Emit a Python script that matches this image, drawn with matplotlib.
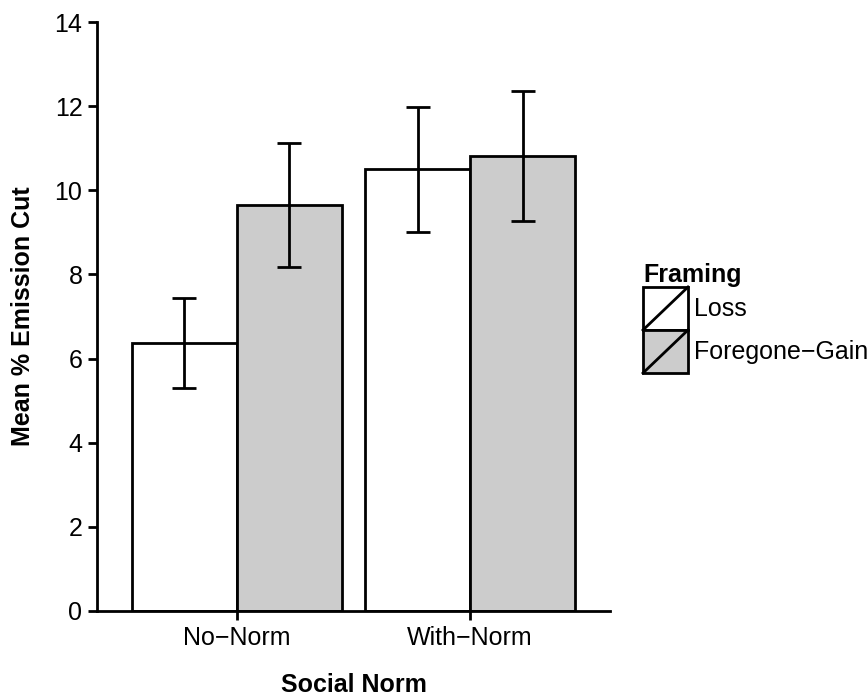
#!/usr/bin/env python

import matplotlib
matplotlib.use("Agg")
import matplotlib.pyplot as plt
import numpy as np
from matplotlib.legend_handler import HandlerBase
from matplotlib.lines import Line2D
from matplotlib.patches import Rectangle

# data
norms = ["No\u2212Norm", "With\u2212Norm"]
framings = ["Loss", "Foregone\u2212Gain"]
loss_means = [6.37, 10.50]
loss_err = [1.06, 1.48]
gain_means = [9.65, 10.81]
gain_err = [1.48, 1.55]
yticks = [0, 2, 4, 6, 8, 10, 12, 14]

colors = ["white", "#cccccc"]
LW = 2.0

plt.rcParams["font.family"] = ["Liberation Sans", "DejaVu Sans"]
plt.rcParams["font.size"] = 18


class SlashBoxHandler(HandlerBase):
    """old ggplot2 style key: filled box with a diagonal stroke"""

    def create_artists(self, legend, orig_handle, xdescent, ydescent,
                       width, height, fontsize, trans):
        box = Rectangle((-xdescent, -ydescent), width, height,
                        facecolor=orig_handle.get_facecolor(),
                        edgecolor="black", linewidth=LW, transform=trans)
        slash = Line2D([-xdescent, -xdescent + width],
                       [-ydescent, -ydescent + height],
                       color="black", linewidth=LW, transform=trans)
        return [box, slash]


def plot_bars():
    fig = plt.figure(figsize=(8.68, 6.97), dpi=100)
    ax = fig.add_axes([97 / 868, 86 / 697, 513 / 868, 589 / 697])

    x = np.arange(1, len(norms) + 1)
    w = 0.45
    series = [(loss_means, loss_err), (gain_means, gain_err)]
    handles = []
    for i, (means, errs) in enumerate(series):
        pos = x + (i - 0.5) * w
        bars = ax.bar(pos, means, width=w, color=colors[i], edgecolor="black",
                      linewidth=LW, zorder=2, label=framings[i])
        ax.errorbar(pos, means, yerr=errs, fmt="none", ecolor="black",
                    elinewidth=LW, capsize=8.4, capthick=LW, zorder=3)
        handles.append(bars.patches[0])

    ax.set_xlim(0.4, 2.6)
    ax.set_ylim(0, 14)
    ax.set_xticks(x)
    ax.set_xticklabels(norms)
    ax.set_yticks(yticks)
    ax.set_yticklabels([str(t) for t in yticks])

    for side in ["top", "right"]:
        ax.spines[side].set_visible(False)
    for side in ["left", "bottom"]:
        ax.spines[side].set_linewidth(LW)
    ax.tick_params(length=6.5, width=LW, color="black", labelsize=18, pad=4)

    ax.set_xlabel("Social Norm", fontweight="bold", fontsize=18, labelpad=17)
    ax.set_ylabel("Mean % Emission Cut", fontweight="bold", fontsize=18,
                  labelpad=14)

    fig.legend(handles, framings, title="Framing",
               handler_map={Rectangle: SlashBoxHandler()},
               loc="upper left", bbox_to_anchor=(643 / 868, 1 - 263 / 697),
               frameon=False, fontsize=18, handlelength=1.8,
               handleheight=2.27, labelspacing=0, handletextpad=0.25,
               borderpad=0, borderaxespad=0, alignment="left",
               title_fontproperties={"weight": "bold", "size": 18})

    fig.savefig("out.png", dpi=100)
    plt.close(fig)


if __name__ == "__main__":
    plot_bars()
